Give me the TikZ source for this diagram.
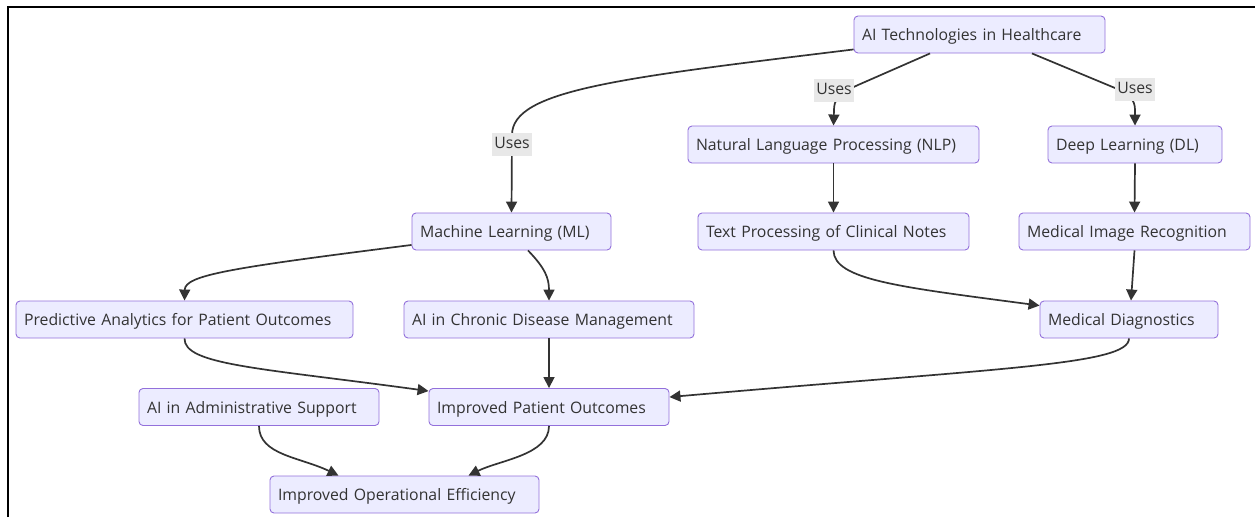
\documentclass[tikz,border=0pt]{standalone}
\usepackage{fontspec}
\setmainfont{Open Sans}
\usetikzlibrary{arrows.meta}
\definecolor{nodefill}{HTML}{ECECFF}
\definecolor{nodeborder}{HTML}{9370DB}
\definecolor{txt}{HTML}{333333}
\definecolor{lblbg}{HTML}{E8E8E8}
\tikzset{
  box/.style={draw=nodeborder, fill=nodefill, line width=0.9pt, rounded corners=4pt,
    minimum height=37pt, inner xsep=8pt, inner ysep=0pt, align=left, text=txt,
    text height=16.9pt, text depth=4.6pt,
    font=\fontsize{15.8}{19}\selectfont},
  conn/.style={draw=txt, line width=1.7pt, -{Triangle[length=11pt,width=11pt]}},
  lbl/.style={fill=lblbg, text=txt, inner xsep=2pt, inner ysep=0pt, minimum height=23pt,
    text height=12pt, text depth=3pt, font=\fontsize{15.8}{19}\selectfont},
  frameline/.style={draw=black, line width=1.6pt}
}
\begin{document}
\begin{tikzpicture}[x=1pt,y=-1pt]
\useasboundingbox (0,0) rectangle (1255,517);
\draw[frameline] (8.2,517) -- (8.2,6.7) -- (1255,6.7);

\node[box, text width=235pt] (tech) at (979.5,34.5) {AI Technologies in Healthcare};
\node[box, text width=275pt] (nlp) at (833.5,144.5) {Natural Language Processing (NLP)};
\node[box, text width=158pt] (dl) at (1135,144.5) {Deep Learning (DL)};
\node[box, text width=183pt] (ml) at (511.5,231.5) {Machine Learning (ML)};
\node[box, text width=255pt] (text) at (833.5,231.5) {Text Processing of Clinical Notes};
\node[box, text width=215pt] (mir) at (1134.5,231.5) {Medical Image Recognition};
\node[box, text width=321pt] (pred) at (184.5,319.5) {Predictive Analytics for Patient Outcomes};
\node[box, text width=274pt] (chronic) at (549,319.5) {AI in Chronic Disease Management};
\node[box, text width=162pt] (md) at (1129,319.5) {Medical Diagnostics};
\node[box, text width=224pt] (admin) at (259,407) {AI in Administrative Support};
\node[box, text width=224pt] (ipo) at (549,407) {Improved Patient Outcomes};
\node[box, text width=253pt] (ioe) at (404.5,494.5) {Improved Operational Efficiency};

\draw[conn] ([yshift=4pt]tech.south west) .. controls (620,78) and (512,90) .. (512,135) -- (ml.north);
\draw[conn] ([xshift=-49.5pt]tech.south) -- (858,85) .. controls (838,94) and (834,100) .. (834,110) -- (nlp.north);
\draw[conn] ([xshift=52.5pt]tech.south) -- (1115,88) .. controls (1130,95) and (1135,100) .. (1135,110) -- (dl.north);
\node[lbl] (u1) at (512,144) {Uses};
\node[lbl] (u2) at (834,90) {Uses};
\node[lbl] (u3) at (1135,89) {Uses};

\draw[conn] (nlp.south) -- (text.north);
\draw[conn] (dl.south) -- (mir.north);
\draw[conn] ([yshift=5.5pt]ml.south west) .. controls (230,268) and (185,275) .. (pred.north);
\draw[conn] ([xshift=16.5pt]ml.south) .. controls (545,268) and (549,278) .. (chronic.north);
\draw[conn] (text.south) .. controls (834,280) and (900,287) .. ([yshift=-5pt]md.north west);
\draw[conn] (mir.south) -- ([xshift=2pt]md.north);
\draw[conn] (pred.south) .. controls (184,365) and (260,368) .. ([yshift=-3pt]ipo.north west);
\draw[conn] (chronic.south) -- (ipo.north);
\draw[conn] (md.south) .. controls (1129,365) and (1000,368) .. ([yshift=-9pt]ipo.north east);
\draw[conn] (admin.south) .. controls (259,455) and (300,457) .. ([xshift=-66pt]ioe.north);
\draw[conn] (ipo.south) .. controls (549,455) and (500,460) .. ([xshift=64pt]ioe.north);
\end{tikzpicture}
\end{document}
